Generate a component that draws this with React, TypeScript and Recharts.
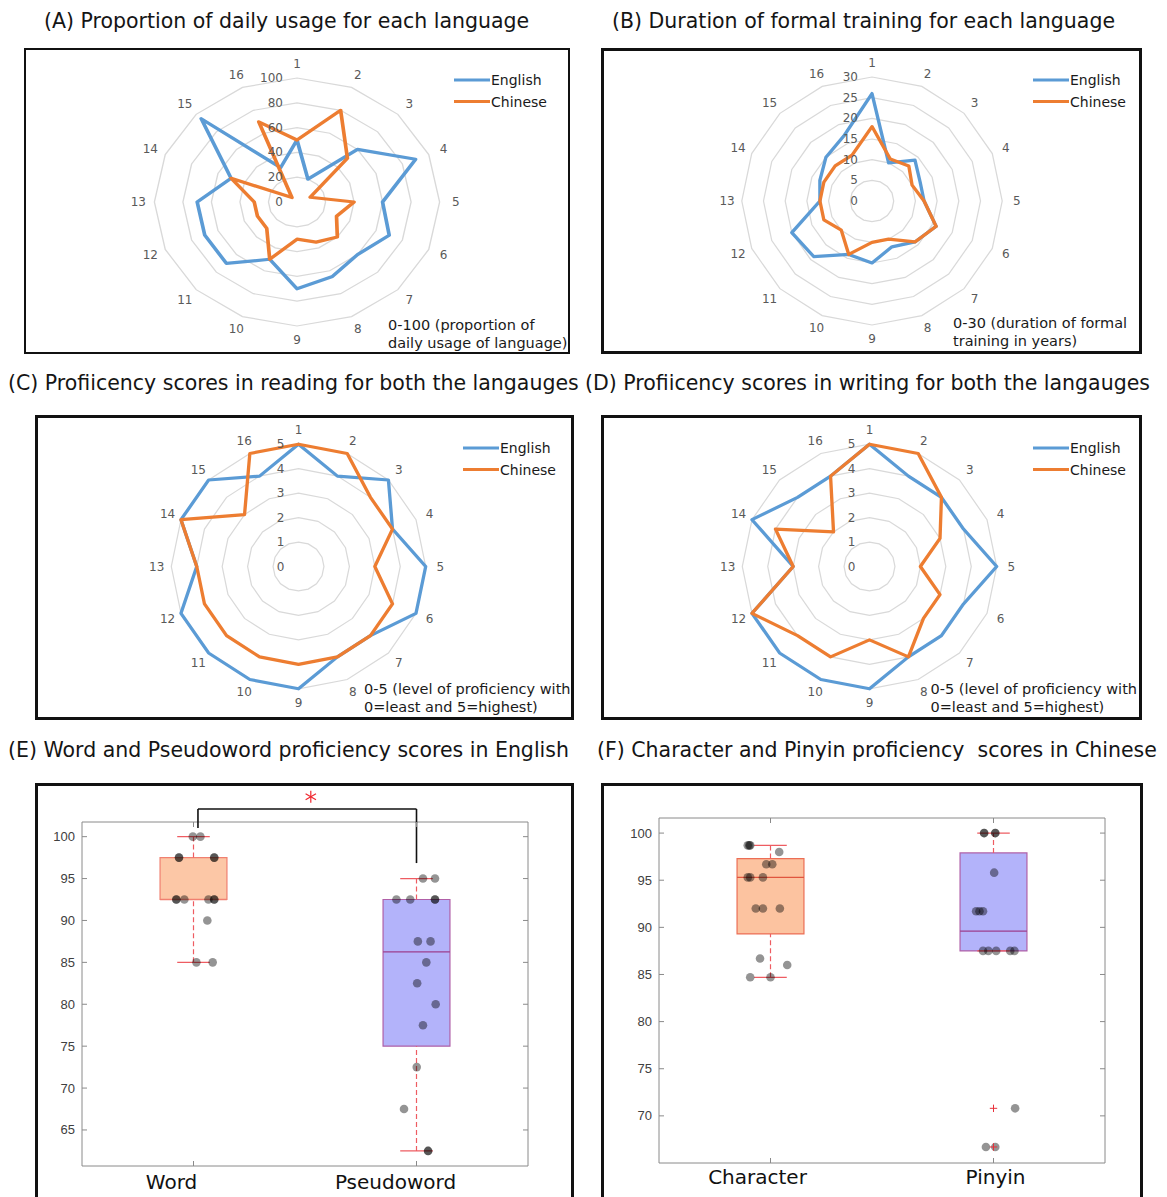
import React from 'react';
import {
  ComposedChart,
  PolarAngleAxis,
  PolarGrid,
  PolarRadiusAxis,
  Radar,
  RadarChart,
  ReferenceArea,
  ReferenceDot,
  ReferenceLine,
  Scatter,
  XAxis,
  YAxis,
} from 'recharts';

const FONT = '"DejaVu Sans", Verdana, sans-serif';
const BLUE = '#5B9BD5';
const ORANGE = '#ED7D31';

// radar spokes (participants)
const SPOKES = ['1', '2', '3', '4', '5', '6', '7', '8', '9', '10', '11', '12', '13', '14', '15', '16'];

// (A) proportion of daily usage, 0-100
const USAGE_EN = [50, 20, 60, 90, 60, 70, 60, 65, 70, 50, 70, 70, 70, 50, 95, 30];
const USAGE_ZH = [50, 80, 50, 10, 40, 30, 40, 35, 30, 50, 30, 30, 30, 50, 5, 70];
// (B) years of formal training, 0-30
const TRAIN_EN = [26, 10, 14, 12, 12, 16, 14, 12, 15, 14, 19, 20, 12, 13, 15, 17];
const TRAIN_ZH = [18, 11, 12, 10, 12, 16, 14, 10, 10, 14, 10, 12, 12, 12, 12, 12];
// (C) reading proficiency, 0-5
const READ_EN = [5, 4, 5, 4, 5, 5, 4, 4, 5, 5, 5, 5, 4, 5, 5, 4];
const READ_ZH = [5, 5, 4, 4, 3, 4, 4, 4, 4, 4, 4, 4, 4, 5, 3, 5];
// (D) writing proficiency, 0-5
const WRITE_EN = [5, 4, 4, 4, 5, 4, 4, 4, 5, 5, 5, 5, 3, 5, 4, 4];
const WRITE_ZH = [5, 5, 4, 3, 2, 3, 3, 4, 3, 4, 4, 5, 3, 4, 2, 4];

// (E) English scores: box stats are [low whisker, q1, median, q3, high whisker]
const ENG_CATS = ['Word', 'Pseudoword'];
const ENG_TICKS = [65, 70, 75, 80, 85, 90, 95, 100];
const WORD_BOX = [85, 92.5, 92.5, 97.5, 100];
const PSEUDO_BOX = [62.5, 75, 86.25, 92.5, 95];
const WORD_X = [0.997, 1.031, 0.935, 0.935, 1.093, 1.093, 0.923, 0.923, 0.959, 1.067, 1.093, 1.093, 1.062, 1.013, 1.086];
const WORD_Y = [100, 100, 97.5, 97.5, 97.5, 97.5, 92.5, 92.5, 92.5, 92.5, 92.5, 92.5, 90, 85, 85];
const PSEUDO_X = [2.029, 2.083, 1.91, 1.972, 2.083, 2.083, 2.006, 2.063, 2.044, 2.003, 2.086, 2.029, 2.001, 1.944, 2.052, 2.052];
const PSEUDO_Y = [95, 95, 92.5, 92.5, 92.5, 92.5, 87.5, 87.5, 85, 82.5, 80, 77.5, 72.5, 67.5, 62.5, 62.5];

// (F) Chinese scores
const CHN_CATS = ['Character', 'Pinyin'];
const CHN_TICKS = [70, 75, 80, 85, 90, 95, 100];
const CHAR_BOX = [84.7, 89.3, 95.3, 97.3, 98.7];
const PINYIN_BOX = [87.5, 87.5, 89.6, 97.9, 100];
const PINYIN_OUT = [70.8, 66.7];
const CHAR_X = [0.898, 0.905, 0.909, 1.039, 0.981, 1.008, 0.898, 0.909, 0.966, 0.934, 0.966, 1.042, 0.953, 1.075, 0.909, 1.0];
const CHAR_Y = [98.7, 98.7, 98.7, 98.0, 96.7, 96.7, 95.3, 95.3, 95.3, 92.0, 92.0, 92.0, 86.7, 86.0, 84.7, 84.7];
const PINYIN_X = [1.958, 1.958, 2.008, 2.008, 2.003, 1.922, 1.937, 1.953, 1.953, 1.977, 2.012, 2.075, 2.094, 2.097, 1.966, 2.008];
const PINYIN_Y = [100, 100, 100, 100, 95.8, 91.7, 91.7, 91.7, 87.5, 87.5, 87.5, 87.5, 87.5, 70.8, 66.7, 66.7];

const zip = (xs: number[], ys: number[]) => xs.map((x, i) => ({ x, y: ys[i] }));

function Title({ x, base, text }: { x: number; base: number; text: string }) {
  const fs = 20.5;
  return (
    <div
      style={{
        position: 'absolute', left: x, top: base - 0.928 * fs, fontFamily: FONT, fontSize: fs,
        lineHeight: 'normal', whiteSpace: 'pre', color: '#151515',
      }}
    >
      {text}
    </div>
  );
}

function Frame({ l, t, r, b, bw }: { l: number; t: number; r: number; b: number; bw: number }) {
  return (
    <div
      style={{
        position: 'absolute', left: l, top: t, width: r - l, height: b - t,
        border: `${bw}px solid #111`, boxSizing: 'border-box',
      }}
    />
  );
}

interface RadarCfg {
  cx: number; cy: number; r: number; k: number;
  max: number; tickCount: number;
  en: number[]; zh: number[];
  legendX: number; legendY: number;
  note: string[]; noteX: number; noteBase: number;
}

function RadarPanel({ cfg }: { cfg: RadarCfg }) {
  const { cx, cy, r, k, max, tickCount, en, zh } = cfg;
  const W = Math.round(2 * r + 100);
  const H = Math.round(2 * r + 70);
  const rows = SPOKES.map((s, i) => ({ spoke: s, en: en[i], zh: zh[i] }));

  const angleTick = (p: any) => {
    const i = SPOKES.indexOf(String(p.payload.value));
    const a = ((90 - i * 22.5) * Math.PI) / 180;
    const rr = r + 14;
    const x = W / 2 + rr * Math.cos(a);
    const y = H / 2 - rr * Math.sin(a);
    return (
      <text
        transform={`translate(${x},${y}) scale(${1 / k},1)`}
        textAnchor="middle" dominantBaseline="central"
        fontSize={12} fontFamily={FONT} fill="#595959"
      >
        {p.payload.value}
      </text>
    );
  };

  const radiusTick = (p: any) => (
    <text
      transform={`translate(${p.x - 14 / k},${p.y}) scale(${1 / k},1)`}
      textAnchor="end" dominantBaseline="central"
      fontSize={12} fontFamily={FONT} fill="#595959"
    >
      {p.payload.value}
    </text>
  );

  const fs = 14.5;
  return (
    <>
      <div
        style={{
          position: 'absolute', left: cx - W / 2, top: cy - H / 2, width: W, height: H,
          transform: `scaleX(${k})`, transformOrigin: '50% 50%',
        }}
      >
        <RadarChart
          width={W} height={H} data={rows} cx={W / 2} cy={H / 2} outerRadius={r}
          startAngle={90} endAngle={-270} margin={{ top: 0, right: 0, bottom: 0, left: 0 }}
        >
          <PolarGrid gridType="polygon" radialLines={false} stroke="#d9d9d9" strokeWidth={1.2} />
          <PolarAngleAxis dataKey="spoke" axisLine={false} tickLine={false} tick={angleTick} />
          <PolarRadiusAxis
            angle={90} domain={[0, max]} tickCount={tickCount} type="number"
            axisLine={false} tickLine={false} tick={radiusTick}
          />
          <Radar
            dataKey="en" stroke={BLUE} strokeWidth={3.2} fill="none" fillOpacity={0}
            strokeLinejoin="round" dot={false} isAnimationActive={false}
          />
          <Radar
            dataKey="zh" stroke={ORANGE} strokeWidth={3.2} fill="none" fillOpacity={0}
            strokeLinejoin="round" dot={false} isAnimationActive={false}
          />
        </RadarChart>
      </div>

      {/* legend */}
      <svg style={{ position: 'absolute', left: cfg.legendX, top: cfg.legendY - 10 }} width={100} height={40}>
        <line x1={0} x2={36} y1={10} y2={10} stroke={BLUE} strokeWidth={3} />
        <text x={37} y={10} dominantBaseline="central" fontSize={14} fontFamily={FONT} fill="#1a1a1a">English</text>
        <line x1={0} x2={36} y1={31.6} y2={31.6} stroke={ORANGE} strokeWidth={3} />
        <text x={37} y={31.6} dominantBaseline="central" fontSize={14} fontFamily={FONT} fill="#1a1a1a">Chinese</text>
      </svg>

      {/* scale note */}
      <div
        style={{
          position: 'absolute', left: cfg.noteX, top: cfg.noteBase - 13.75, fontFamily: FONT,
          fontSize: fs, lineHeight: '17.5px', color: '#1a1a1a', whiteSpace: 'pre',
        }}
      >
        {cfg.note.join('\n')}
      </div>
    </>
  );
}

interface BoxStyle { fill: string; edge: string; med: string }

interface BoxCfg {
  left: number; top: number; width: number; height: number;
  plotL: number; plotT: number; plotR: number; plotB: number; // local plot rect
  domain: [number, number];
  ticks: number[];
  cats: string[];
  labelDx: number[];
  labelDy: number;
  boxes: number[][];
  styles: BoxStyle[];
  points: { x: number; y: number }[];
  outliers?: { x: number; y: number }[];
  bracket?: boolean;
}

const WHISK = '#EE5C62';
const AXIS = '#8a8a8a';

function BoxPanel({ cfg }: { cfg: BoxCfg }) {
  const plotW = cfg.plotR - cfg.plotL;
  const plotH = cfg.plotB - cfg.plotT;
  const [d0, d1] = cfg.domain;

  const yTick = (p: any) => (
    <g>
      <text
        x={p.x - 7} y={p.y} textAnchor="end" dominantBaseline="central"
        fontSize={13} fontFamily='"Liberation Sans", Arial, sans-serif' fill="#404040"
      >
        {p.payload.value}
      </text>
      <line x1={p.x} x2={p.x + 5} y1={p.y} y2={p.y} stroke={AXIS} />
      <line x1={p.x + plotW - 5} x2={p.x + plotW} y1={p.y} y2={p.y} stroke={AXIS} />
    </g>
  );

  const xTick = (p: any) => {
    const i = Math.round(p.payload.value) - 1;
    return (
      <g>
        <text
          x={p.x + cfg.labelDx[i]} y={p.y + cfg.labelDy} textAnchor="middle" dominantBaseline="central"
          fontSize={20} fontFamily={FONT} fill="#111"
        >
          {cfg.cats[i]}
        </text>
        <line x1={p.x} x2={p.x} y1={p.y} y2={p.y - 5} stroke={AXIS} />
        <line x1={p.x} x2={p.x} y1={p.y - plotH} y2={p.y - plotH + 5} stroke={AXIS} />
      </g>
    );
  };

  const dot = (p: any) => <circle cx={p.cx} cy={p.cy} r={4.3} fill="#000" fillOpacity={0.42} />;
  const plus = (p: any) => (
    <g stroke="#E8303A" strokeWidth={1}>
      <line x1={p.cx - 3.7} x2={p.cx + 3.7} y1={p.cy} y2={p.cy} />
      <line x1={p.cx} x2={p.cx} y1={p.cy - 3.7} y2={p.cy + 3.7} />
    </g>
  );
  const star = (p: any) => (
    <g stroke="#F0262E" strokeWidth={1.2}>
      <line x1={p.cx} x2={p.cx} y1={p.cy - 6} y2={p.cy + 6} />
      <line x1={p.cx - 5.2} x2={p.cx + 5.2} y1={p.cy - 3} y2={p.cy + 3} />
      <line x1={p.cx - 5.2} x2={p.cx + 5.2} y1={p.cy + 3} y2={p.cy - 3} />
    </g>
  );

  const hw = 0.15;
  const cap = 0.073;

  return (
    <div style={{ position: 'absolute', left: cfg.left, top: cfg.top }}>
      <ComposedChart
        width={cfg.width} height={cfg.height}
        margin={{ top: cfg.plotT, right: cfg.width - cfg.plotR, bottom: 0, left: 0 }}
      >
        <XAxis
          type="number" dataKey="x" domain={[0.5, 2.5]} ticks={[1, 2]} allowDataOverflow
          height={cfg.height - cfg.plotB} axisLine={false} tickLine={false} tickSize={0} tickMargin={0}
          tick={xTick} interval={0}
        />
        <YAxis
          type="number" dataKey="y" domain={[d0, d1]} ticks={cfg.ticks} allowDataOverflow
          width={cfg.plotL} axisLine={false} tickLine={false} tickSize={0} tickMargin={0}
          tick={yTick} interval={0}
        />
        <ReferenceArea x1={0.5} x2={2.5} y1={d0} y2={d1} fill="none" stroke={AXIS} strokeWidth={1} ifOverflow="visible" />

        {cfg.boxes.map((b, i) => {
          const x = i + 1;
          const st = cfg.styles[i];
          return (
            <React.Fragment key={i}>
              <ReferenceArea
                x1={x - hw} x2={x + hw} y1={b[1]} y2={b[3]}
                fill={st.fill} fillOpacity={1} stroke={st.edge} strokeWidth={1.2} ifOverflow="visible"
              />
              {b[3] < b[4] && (
                <ReferenceLine segment={[{ x, y: b[3] }, { x, y: b[4] }]} stroke={WHISK} strokeDasharray="5 3" strokeWidth={1.2} ifOverflow="visible" />
              )}
              {b[0] < b[1] && (
                <ReferenceLine segment={[{ x, y: b[0] }, { x, y: b[1] }]} stroke={WHISK} strokeDasharray="5 3" strokeWidth={1.2} ifOverflow="visible" />
              )}
              <ReferenceLine segment={[{ x: x - cap, y: b[4] }, { x: x + cap, y: b[4] }]} stroke={WHISK} strokeWidth={1.2} ifOverflow="visible" />
              <ReferenceLine segment={[{ x: x - cap, y: b[0] }, { x: x + cap, y: b[0] }]} stroke={WHISK} strokeWidth={1.2} ifOverflow="visible" />
              <ReferenceLine segment={[{ x: x - hw, y: b[2] }, { x: x + hw, y: b[2] }]} stroke={st.med} strokeWidth={1.4} ifOverflow="visible" />
            </React.Fragment>
          );
        })}

        {cfg.bracket && (
          <>
            <ReferenceLine segment={[{ x: 1.02, y: 101.03 }, { x: 1.02, y: 103.3 }]} stroke="#111" strokeWidth={1.6} ifOverflow="visible" />
            <ReferenceLine segment={[{ x: 1.02, y: 103.3 }, { x: 2.0, y: 103.3 }]} stroke="#111" strokeWidth={1.6} ifOverflow="visible" />
            <ReferenceLine segment={[{ x: 2.0, y: 103.3 }, { x: 2.0, y: 96.85 }]} stroke="#111" strokeWidth={1.6} ifOverflow="visible" />
            <ReferenceDot x={1.526} y={104.77} r={0} ifOverflow="visible" shape={star} />
          </>
        )}

        <Scatter data={cfg.points} isAnimationActive={false} shape={dot} />
        {cfg.outliers && <Scatter data={cfg.outliers} isAnimationActive={false} shape={plus} />}
      </ComposedChart>
    </div>
  );
}

const RADAR_A: RadarCfg = {
  cx: 296.5, cy: 201.5, r: 124, k: 1.15, max: 100, tickCount: 6, en: USAGE_EN, zh: USAGE_ZH,
  legendX: 453.5, legendY: 79.7, note: ['0-100 (proportion of', 'daily usage of language)'], noteX: 388, noteBase: 331,
};
const RADAR_B: RadarCfg = {
  cx: 872, cy: 201.3, r: 124, k: 1.05, max: 30, tickCount: 7, en: TRAIN_EN, zh: TRAIN_ZH,
  legendX: 1032.5, legendY: 79.7, note: ['0-30 (duration of formal', 'training in years)'], noteX: 953, noteBase: 329,
};
const RADAR_C: RadarCfg = {
  cx: 298, cy: 566.7, r: 122.3, k: 1.04, max: 5, tickCount: 6, en: READ_EN, zh: READ_ZH,
  legendX: 462.5, legendY: 447.7, note: ['0-5 (level of proficiency with', '0=least and 5=highest)'], noteX: 364, noteBase: 695,
};
const RADAR_D: RadarCfg = {
  cx: 869.3, cy: 566.7, r: 122.3, k: 1.04, max: 5, tickCount: 6, en: WRITE_EN, zh: WRITE_ZH,
  legendX: 1032.5, legendY: 447.7, note: ['0-5 (level of proficiency with', '0=least and 5=highest)'], noteX: 930.5, noteBase: 695,
};

const BOX_E: BoxCfg = {
  left: 37, top: 786, width: 535, height: 411,
  plotL: 45, plotT: 36, plotR: 491, plotB: 380,
  domain: [60.7, 101.75], ticks: ENG_TICKS, cats: ENG_CATS, labelDx: [-22, -21], labelDy: 16,
  boxes: [WORD_BOX, PSEUDO_BOX],
  styles: [
    { fill: '#FCC7A6', edge: '#F08070', med: '#F08070' },
    { fill: '#B3B3FA', edge: '#B060A8', med: '#9C3F8E' },
  ],
  points: [...zip(WORD_X, WORD_Y), ...zip(PSEUDO_X, PSEUDO_Y)],
  bracket: true,
};

const BOX_F: BoxCfg = {
  left: 604, top: 786, width: 538, height: 411,
  plotL: 55, plotT: 32, plotR: 501, plotB: 377,
  domain: [65, 101.6], ticks: CHN_TICKS, cats: CHN_CATS, labelDx: [-13, 2], labelDy: 14,
  boxes: [CHAR_BOX, PINYIN_BOX],
  styles: [
    { fill: '#FCC3A0', edge: '#EC6E55', med: '#E0553E' },
    { fill: '#B3B3FA', edge: '#B060A8', med: '#9C3F8E' },
  ],
  points: [...zip(CHAR_X, CHAR_Y), ...zip(PINYIN_X, PINYIN_Y)],
  outliers: PINYIN_OUT.map((y) => ({ x: 2, y })),
};

export default function App() {
  return (
    <div style={{ position: 'absolute', left: 0, top: 0, width: 1167, height: 1197, overflow: 'hidden', background: '#fff' }}>
      <Title x={44} base={28} text="(A) Proportion of daily usage for each language" />
      <Title x={612} base={28} text="(B) Duration of formal training for each language" />
      <Title x={8} base={390} text="(C) Profiicency scores in reading for both the langauges" />
      <Title x={585} base={390} text="(D) Profiicency scores in writing for both the langauges" />
      <Title x={8} base={757} text="(E) Word and Pseudoword proficiency scores in English" />
      <Title x={597} base={757} text="(F) Character and Pinyin proficiency  scores in Chinese" />

      <Frame l={24} t={48} r={570} b={354} bw={2} />
      <Frame l={601} t={48} r={1142} b={354} bw={3} />
      <Frame l={35} t={415} r={574} b={720} bw={3} />
      <Frame l={601} t={415} r={1142} b={720} bw={3} />
      <Frame l={35} t={783} r={574} b={1210} bw={3} />
      <Frame l={601} t={783} r={1143} b={1210} bw={3} />

      <RadarPanel cfg={RADAR_A} />
      <RadarPanel cfg={RADAR_B} />
      <RadarPanel cfg={RADAR_C} />
      <RadarPanel cfg={RADAR_D} />

      <BoxPanel cfg={BOX_E} />
      <BoxPanel cfg={BOX_F} />
    </div>
  );
}
